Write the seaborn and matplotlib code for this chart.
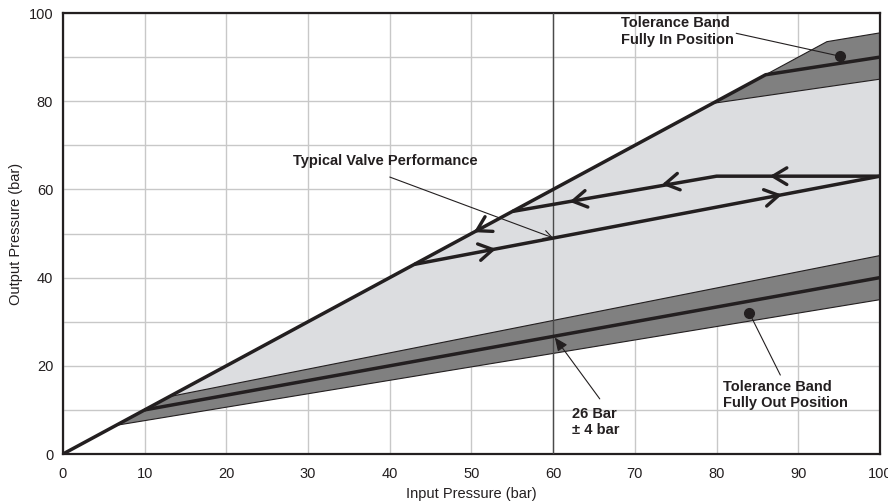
import numpy as np
import pandas as pd
import matplotlib
matplotlib.use("Agg")
import matplotlib.pyplot as plt
import seaborn as sns

# ---- data ----
# light grey operating envelope
env_x = [6.5, 79.5, 100, 100]
env_y = [6.5, 79.5, 85, 35]
# tolerance band fully in position (upper dark band)
band_in_x = [79.5, 93.5, 100, 100]
band_in_y = [79.5, 93.5, 95.5, 85]
# tolerance band fully out position (lower dark band)
band_out_x = [6.5, 13, 100, 100]
band_out_y = [6.5, 13, 45, 35]
# thick boundary lines
upper_line_x = [0, 86, 100]
upper_line_y = [0, 86, 90]
lower_line_x = [10, 100]
lower_line_y = [10, 40]
# typical valve performance loop
rise_x = [43, 100]
rise_y = [43, 63]
ret_x = [100, 80, 55]
ret_y = [63, 63, 55]
# direction chevrons: (x, y, dx, dy)
arrow_pts = [
    (53, 46.5, 1, 20 / 57),
    (88, 58.8, 1, 20 / 57),
    (86.5, 63, -1, 0),
    (73.3, 61.1, -1, -8 / 25),
    (62, 57.2, -1, -8 / 25),
    (50.3, 50.3, -1, -1),
]

sns.set_style("white")
plt.rcParams["font.family"] = ["Liberation Sans", "DejaVu Sans"]

fig, ax = plt.subplots(figsize=(8.88, 5.04), dpi=100)
fig.subplots_adjust(left=0.0709, right=0.991, top=0.9742, bottom=0.0992)

ink = "#231f20"
light = "#dcdde0"
dark = "#808080"

ax.set_xlim(0, 100)
ax.set_ylim(0, 100)
ax.set_xticks(np.arange(0, 101, 10))
ax.set_yticks(np.arange(0, 101, 10), minor=True)
ax.set_yticks(np.arange(0, 101, 20))
ax.grid(True, which="both", color="#c8c8c8", linewidth=1.0)
ax.set_axisbelow(True)

ax.fill(env_x, env_y, color=light, zorder=1, lw=0)
ax.fill(band_in_x, band_in_y, facecolor=dark, edgecolor=ink, lw=0.8, zorder=2)
ax.fill(band_out_x, band_out_y, facecolor=dark, edgecolor=ink, lw=0.8, zorder=2)

ax.axvline(60, color="#4a4a4a", lw=1.0, zorder=3)

lines = pd.DataFrame({
    "x": upper_line_x + lower_line_x + rise_x + ret_x,
    "y": upper_line_y + lower_line_y + rise_y + ret_y,
    "seg": ["upper"] * 3 + ["lower"] * 2 + ["rise"] * 2 + ["ret"] * 3,
})
for seg, d in lines.groupby("seg"):
    sns.lineplot(data=d, x="x", y="y", sort=False, estimator=None, color=ink,
                 lw=2.5, ax=ax, zorder=4, solid_capstyle="butt")

for x, y, dx, dy in arrow_pts:
    s = 0.8
    ax.annotate("", xy=(x, y), xytext=(x - s * dx, y - s * dy),
                arrowprops=dict(arrowstyle="->,head_length=1.0,head_width=0.6",
                                color=ink, lw=2.4, shrinkA=0, shrinkB=0),
                zorder=5)

bold = dict(fontsize=10.5, fontweight="bold", color=ink)

ax.text(28.2, 66.4, "Typical Valve Performance", ha="left", va="center", **bold)
ax.annotate("", xy=(60, 49), xytext=(40, 62.8),
            arrowprops=dict(arrowstyle="->,head_length=0.6,head_width=0.3",
                            color=ink, lw=0.8, shrinkA=0, shrinkB=0), zorder=6)

ax.text(68.3, 95.8, "Tolerance Band\nFully In Position", ha="left", va="center",
        linespacing=1.2, **bold)
ax.plot([82.4, 95.1], [95.4, 90.2], color=ink, lw=0.8, zorder=6)
ax.plot(95.1, 90.2, "o", color=ink, ms=7, zorder=6)

ax.text(80.8, 13.4, "Tolerance Band\nFully Out Position", ha="left", va="center",
        linespacing=1.2, **bold)
ax.plot([84, 87.8], [32, 17.9], color=ink, lw=0.8, zorder=6)
ax.plot(84, 32, "o", color=ink, ms=7, zorder=6)

ax.text(62.3, 7.2, "26 Bar\n± 4 bar", ha="left", va="center",
        linespacing=1.2, **bold)
ax.annotate("", xy=(60.2, 26.4), xytext=(65.7, 12.5),
            arrowprops=dict(arrowstyle="-|>,head_length=0.8,head_width=0.35",
                            color=ink, lw=0.8, shrinkA=0, shrinkB=0), zorder=6)

for sp in ax.spines.values():
    sp.set_visible(True)
    sp.set_color(ink)
    sp.set_linewidth(1.6)

ax.tick_params(axis="both", which="both", length=0, labelsize=10.5, colors=ink)
ax.tick_params(axis="x", pad=9)
ax.tick_params(axis="y", pad=7)
ax.set_xlabel("Input Pressure (bar)", fontsize=10.5, color=ink, labelpad=5)
ax.set_ylabel("Output Pressure (bar)", fontsize=10.5, color=ink, labelpad=4)

fig.savefig("out.png", dpi=100)
